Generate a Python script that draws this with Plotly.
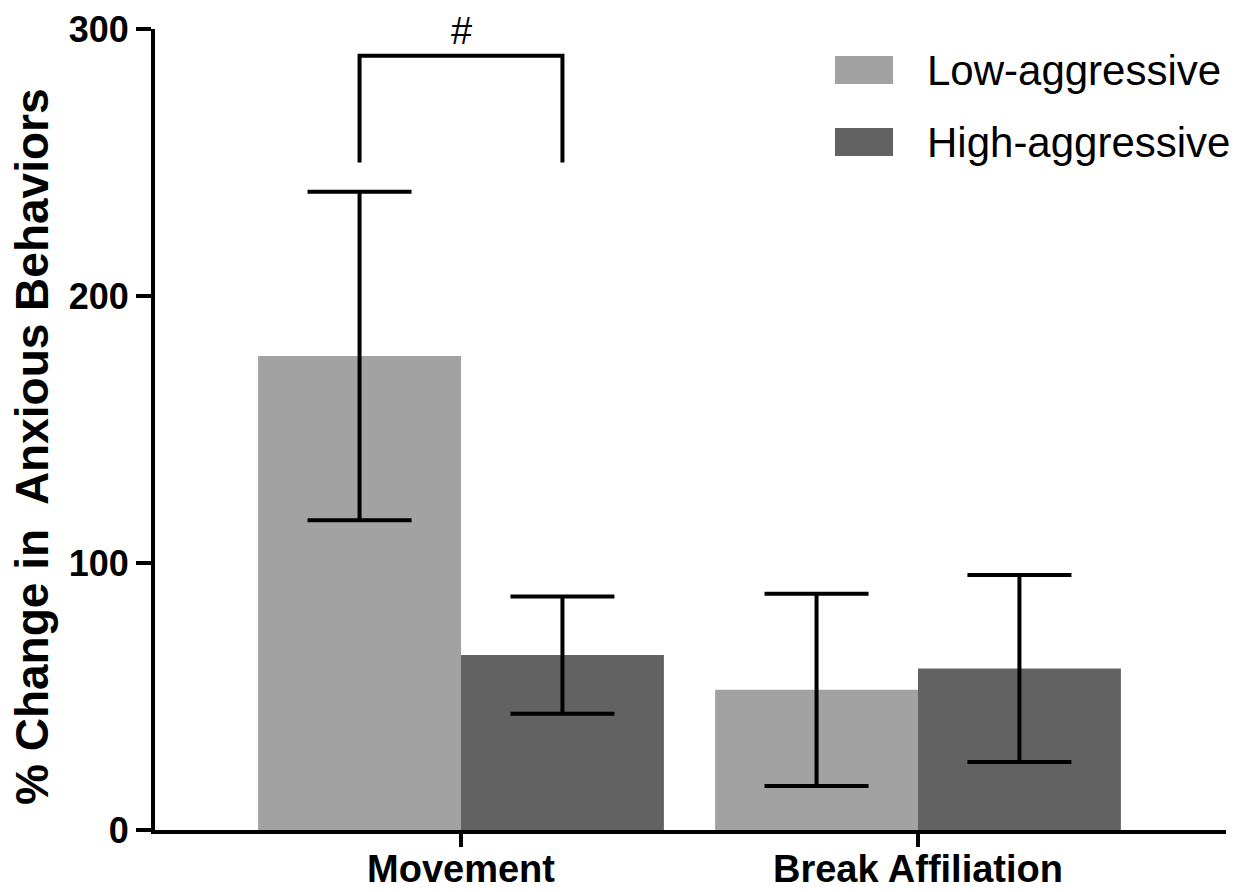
import plotly.graph_objects as go

# Group means and error (± SEM) for each behaviour
categories = ["Movement", "Break Affiliation"]
low_means = [177.5, 52.5]
low_err = [61.5, 36.0]
high_means = [65.5, 60.5]
high_err = [22.0, 35.0]
series_names = ["Low-aggressive", "High-aggressive"]
y_ticks = [0, 100, 200, 300]
y_title = "% Change in  Anxious Behaviors"

# Significance bracket between the two Movement bars
bracket_top = 290
bracket_leg = 250
bracket_label = "#"

LIGHT = "#a2a2a2"
DARK = "#626262"
FONT = "Liberation Sans, Arial, sans-serif"

W, H = 1255, 892
ML, MR, MT, MB = 155, 29, 29, 62
PW = W - ML - MR
PH = H - MT - MB

BARGAP = 0.112
bar_w = (1 - BARGAP) / 2

fig = go.Figure()
for name, means, errs, col in [
    (series_names[0], low_means, low_err, LIGHT),
    (series_names[1], high_means, high_err, DARK),
]:
    fig.add_trace(go.Bar(
        x=categories, y=means, name=name,
        marker=dict(color=col, line=dict(width=0)),
        error_y=dict(type="data", array=errs, visible=True,
                     color="black", thickness=4, width=52),
        showlegend=False,
    ))

# Bracket drawn in data coordinates at the centres of the Movement bars
x_left = 0 - bar_w / 2
x_right = 0 + bar_w / 2
fig.add_shape(type="path",
              path=f"M {x_left} {bracket_leg} L {x_left} {bracket_top} "
                   f"L {x_right} {bracket_top} L {x_right} {bracket_leg}",
              xref="x", yref="y", line=dict(color="black", width=4))
fig.add_annotation(x=0, y=bracket_top, xref="x", yref="y", text=bracket_label,
                   showarrow=False, yanchor="bottom", yshift=2,
                   font=dict(family=FONT, size=38, color="black"))


def px_x(px):
    return (px - ML) / PW


def px_y(py):
    return (H - MB - py) / PH


# Legend with large swatches
legend_rows = [(series_names[0], LIGHT, 70), (series_names[1], DARK, 142)]
for label, col, yc in legend_rows:
    fig.add_shape(type="rect", xref="paper", yref="paper",
                  x0=px_x(835), x1=px_x(893),
                  y0=px_y(yc + 14), y1=px_y(yc - 14),
                  fillcolor=col, line=dict(width=0))
    fig.add_annotation(xref="paper", yref="paper",
                       x=px_x(925), y=px_y(yc),
                       text=label, showarrow=False, xanchor="left",
                       yanchor="middle",
                       font=dict(family=FONT, size=42, color="black"))

# Vertical axis title
fig.add_annotation(xref="paper", yref="paper", x=px_x(32), y=px_y(447),
                   text=y_title, textangle=-90, showarrow=False,
                   xanchor="center", yanchor="middle",
                   font=dict(family=FONT, size=46, color="black", weight="bold"))

fig.update_layout(
    width=W, height=H,
    barmode="group", bargap=BARGAP, bargroupgap=0,
    plot_bgcolor="white", paper_bgcolor="white",
    margin=dict(l=ML, r=MR, t=MT, b=MB, autoexpand=False),
    font=dict(family=FONT, color="black"),
    xaxis=dict(
        range=[-0.6696, 1.674], automargin=False,
        showline=True, linecolor="black", linewidth=4,
        ticks="outside", ticklen=13, tickwidth=4, tickcolor="black",
        ticklabelstandoff=-11,
        tickfont=dict(family=FONT, size=38, color="black", weight="bold"),
        showgrid=False, zeroline=False,
    ),
    yaxis=dict(
        range=[0, 300], tickvals=y_ticks, automargin=False,
        showline=True, linecolor="black", linewidth=4,
        ticks="outside", ticklen=15, tickwidth=4, tickcolor="black",
        tickfont=dict(family=FONT, size=36, color="black", weight="bold"),
        showgrid=False, zeroline=False,
    ),
)

fig.write_html("out.html")
